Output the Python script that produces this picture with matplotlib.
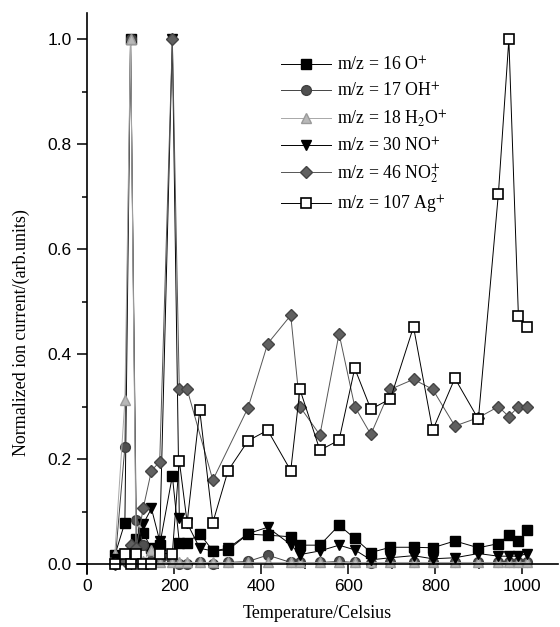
import matplotlib
matplotlib.use("Agg")
import matplotlib.pyplot as plt
from matplotlib.ticker import MultipleLocator, FormatStrFormatter

plt.rcParams['mathtext.fontset'] = 'stix'

# temperatures (Celsius) shared by most series
temp = [64, 87, 100, 113, 129, 148, 167, 196, 212, 230, 259, 289, 324, 370, 415,
        468, 489, 535, 579, 615, 652, 697, 750, 794, 845, 899, 945, 969, 991, 1011]

o_plus = [0.017, 0.079, 1.0, 0.047, 0.059, 0.03, 0.036, 0.168, 0.041, 0.041, 0.058,
          0.025, 0.027, 0.057, 0.055, 0.052, 0.036, 0.036, 0.074, 0.049, 0.022, 0.032,
          0.032, 0.031, 0.044, 0.031, 0.039, 0.055, 0.043, 0.065]
oh_plus = [0.0, 0.223, 1.0, 0.084, 0.036, 0.005, 0.01, 0.005, 0.0, 0.0, 0.003, 0.0,
           0.003, 0.005, 0.017, 0.003, 0.003, 0.003, 0.005, 0.003, 0.002, 0.003, 0.003,
           0.003, 0.003, 0.003, 0.003, 0.003, 0.003, 0.003]
h2o_plus = [0.02, 0.312, 1.0, 0.005, 0.005, 0.027, 0.003, 0.003, 0.003, 0.003, 0.003,
            0.003, 0.003, 0.003, 0.003, 0.003, 0.003, 0.003, 0.003, 0.003, 0.003, 0.003,
            0.003, 0.003, 0.003, 0.003, 0.003, 0.003, 0.003, 0.003]
no_plus = [0.01, 0.02, 0.0, 0.02, 0.076, 0.106, 0.044, 1.0, 0.087, 0.078, 0.03, 0.025,
           0.03, 0.058, 0.07, 0.037, 0.018, 0.025, 0.036, 0.027, 0.008, 0.012, 0.016,
           0.01, 0.012, 0.02, 0.015, 0.015, 0.015, 0.02]
ag_plus = [0.0, 0.02, 0.0, 0.02, 0.0, 0.0, 0.02, 0.02, 0.197, 0.079, 0.293, 0.079,
           0.178, 0.235, 0.255, 0.178, 0.333, 0.217, 0.236, 0.373, 0.295, 0.315, 0.452,
           0.255, 0.354, 0.276, 0.706, 1.0, 0.472, 0.452]

# NO2+ was sampled on a slightly different set of temperatures
temp_no2 = [64, 87, 100, 113, 129, 148, 167, 196, 212, 230, 289, 370, 415, 468, 489,
            535, 579, 615, 652, 697, 750, 794, 845, 899, 945, 969, 991, 1011]
no2_plus = [0.0, 0.005, 0.036, 0.03, 0.106, 0.178, 0.195, 1.0, 0.333, 0.333, 0.16,
            0.298, 0.42, 0.474, 0.3, 0.246, 0.439, 0.3, 0.247, 0.333, 0.352, 0.333,
            0.263, 0.279, 0.3, 0.281, 0.3, 0.3]

labels = [r'm/z = 16 O$^{+}$', r'm/z = 17 OH$^{+}$', r'm/z = 18 H$_{2}$O$^{+}$',
          r'm/z = 30 NO$^{+}$', r'm/z = 46 NO$_{2}^{+}$', r'm/z = 107 Ag$^{+}$']

fig = plt.figure(figsize=(5.6, 6.27), dpi=100)
ax = fig.add_axes([0.1375, 0.0845, 0.859, 0.8947])

lw = 0.7
ax.plot(temp, o_plus, '-', color='black', lw=lw, marker='s', ms=7,
        mfc='black', mec='black', label=labels[0])
ax.plot(temp, oh_plus, '-', color='#444444', lw=lw, marker='o', ms=7,
        mfc='#505050', mec='#404040', label=labels[1])
ax.plot(temp, h2o_plus, '-', color='#a8a8a8', lw=lw, marker='^', ms=7,
        mfc='#b8b8b8', mec='#9a9a9a', label=labels[2])
ax.plot(temp, no_plus, '-', color='black', lw=lw, marker='v', ms=7.5,
        mfc='black', mec='black', label=labels[3])
ax.plot(temp_no2, no2_plus, '-', color='#555555', lw=lw, marker='D', ms=6,
        mfc='#606060', mec='#444444', label=labels[4])
ax.plot(temp, ag_plus, '-', color='black', lw=lw, marker='s', ms=7,
        mfc='white', mec='black', mew=1.2, label=labels[5])

ax.set_xlim(-23, 1082)
ax.set_ylim(-0.019, 1.05)
for side in ['top', 'right']:
    ax.spines[side].set_visible(False)
ax.spines['left'].set_position(('data', 0))
ax.spines['bottom'].set_position(('data', 0))
ax.spines['left'].set_linewidth(1.2)
ax.spines['bottom'].set_linewidth(1.2)

ax.xaxis.set_major_locator(MultipleLocator(200))
ax.xaxis.set_minor_locator(MultipleLocator(100))
ax.yaxis.set_major_locator(MultipleLocator(0.2))
ax.yaxis.set_minor_locator(MultipleLocator(0.1))
ax.yaxis.set_major_formatter(FormatStrFormatter('%.1f'))
ax.tick_params(which='major', direction='out', length=7, width=1.1,
               labelsize=12.5, pad=4)
ax.tick_params(which='minor', direction='out', length=3.5, width=1.1)
for t in ax.get_xticklabels() + ax.get_yticklabels():
    t.set_fontfamily('Liberation Sans')

fig.text(0.567, 0.008, 'Temperature/Celsius', ha='center', va='bottom',
         family='Liberation Serif', fontsize=13)
fig.text(0.022, 0.47, 'Normalized ion current/(arb.units)', ha='left',
         va='center', rotation=90, family='Liberation Serif', fontsize=13)

ax.legend(loc='upper left', bbox_to_anchor=(281 / 560, 1 - 56 / 627),
          bbox_transform=fig.transFigure, frameon=False, numpoints=1,
          handlelength=2.8, handletextpad=0.35, labelspacing=0.42,
          borderpad=0, borderaxespad=0,
          prop={'family': 'Liberation Serif', 'size': 12.8})

fig.savefig('out.png', dpi=100)
